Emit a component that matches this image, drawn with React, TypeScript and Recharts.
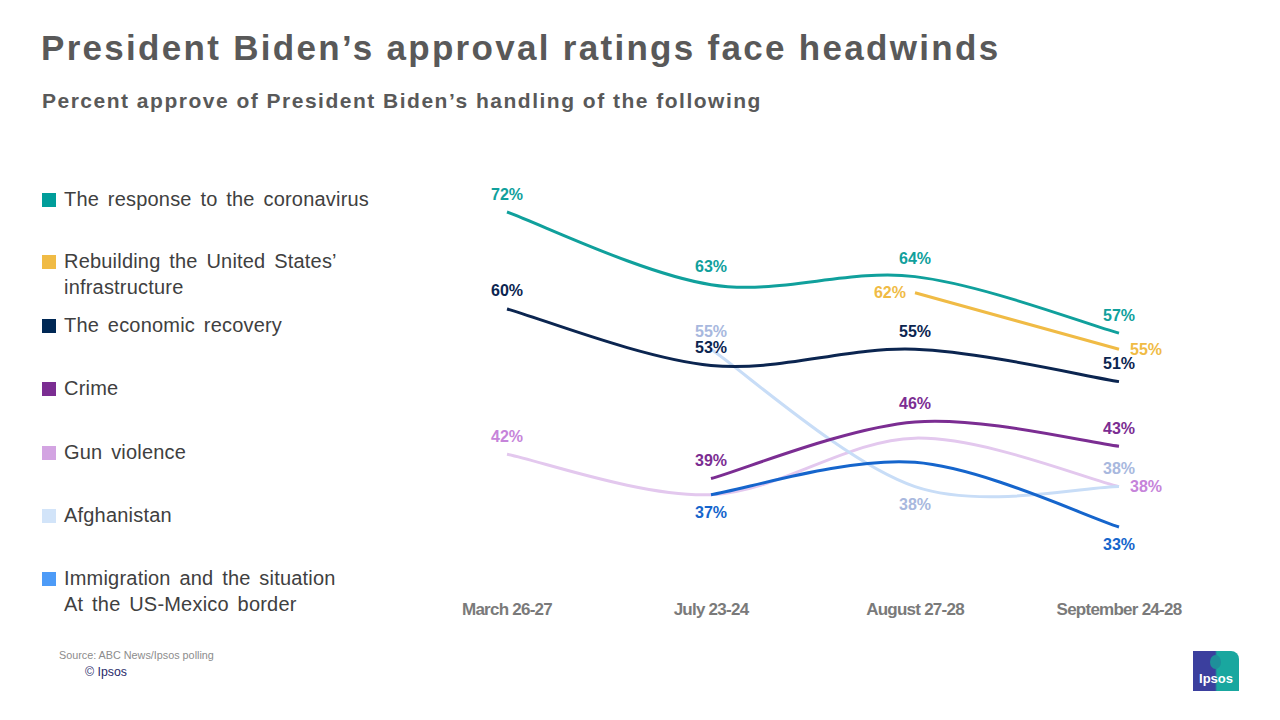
import React from 'react';
import { LineChart, Line, XAxis, YAxis, LabelList } from 'recharts';

const categories = ['March 26-27', 'July 23-24', 'August 27-28', 'September 24-28'];
const coronavirus = [72, 63, 64, 57];
const infrastructure = [null, null, 62, 55];
const economy = [60, 53, 55, 51];
const crime = [null, 39, 46, 43];
const gunViolence = [42, 37, 44, 38];
const afghanistan = [null, 55, 38, 38];
const immigration = [null, 37, 41, 33];

const legendItems = [
  { lines: ['The response to the coronavirus'], color: '#009d9a', top: 188 },
  { lines: ['Rebuilding the United States\u2019', 'infrastructure'], color: '#f0bb45', top: 250 },
  { lines: ['The economic recovery'], color: '#002855', top: 314 },
  { lines: ['Crime'], color: '#7b2d92', top: 377 },
  { lines: ['Gun violence'], color: '#d3a4e2', top: 441 },
  { lines: ['Afghanistan'], color: '#d2e4f9', top: 504 },
  { lines: ['Immigration and the situation', 'At the US-Mexico border'], color: '#4d9bf7', top: 567 },
];

type Pos = 'top' | 'bottom' | 'left' | 'right' | null;

const series: {
  key: string;
  values: (number | null)[];
  stroke: string;
  labelColor: string;
  pos: Pos[];
}[] = [
  { key: 'gun', values: gunViolence, stroke: '#e3c8ee', labelColor: '#c684da', pos: ['top', null, null, 'right'] },
  { key: 'afg', values: afghanistan, stroke: '#c8ddf7', labelColor: '#a8b8de', pos: [null, 'top', 'bottom', 'top'] },
  { key: 'imm', values: immigration, stroke: '#1565cc', labelColor: '#1565cc', pos: [null, 'bottom', null, 'bottom'] },
  { key: 'crime', values: crime, stroke: '#7b2d92', labelColor: '#7b2d92', pos: [null, 'top', 'top', 'top'] },
  { key: 'econ', values: economy, stroke: '#0b2550', labelColor: '#0b2550', pos: ['top', 'top', 'top', 'top'] },
  { key: 'infra', values: infrastructure, stroke: '#f0bb45', labelColor: '#f0bb45', pos: [null, null, 'left', 'right'] },
  { key: 'covid', values: coronavirus, stroke: '#10a09c', labelColor: '#10a09c', pos: ['top', 'top', 'top', 'top'] },
];

const data = categories.map((c, i) => {
  const row: any = { category: c };
  series.forEach((s) => {
    row[s.key] = s.values[i];
  });
  return row;
});

const excelSmooth: any = (context: any) => {
  let pts: number[][] = [];
  return {
    areaStart() {},
    areaEnd() {},
    lineStart() {
      pts = [];
    },
    point(x: number, y: number) {
      pts.push([+x, +y]);
    },
    lineEnd() {
      const n = pts.length;
      if (!n) return;
      context.moveTo(pts[0][0], pts[0][1]);
      for (let i = 0; i < n - 1; i++) {
        const p0 = pts[Math.max(0, i - 1)];
        const p1 = pts[i];
        const p2 = pts[i + 1];
        const p3 = pts[Math.min(n - 1, i + 2)];
        context.bezierCurveTo(
          p1[0] + (p2[0] - p0[0]) / 6,
          p1[1] + (p2[1] - p0[1]) / 6,
          p2[0] - (p3[0] - p1[0]) / 6,
          p2[1] - (p3[1] - p1[1]) / 6,
          p2[0],
          p2[1]
        );
      }
    },
  };
};

const makeLabel = (color: string, pos: Pos[]) => (props: any) => {
  const { value, index } = props;
  const x = props.x ?? props.viewBox?.x;
  const y = props.y ?? props.viewBox?.y;
  if (value == null || x == null || y == null) return null;
  const p = pos[index];
  if (!p) return null;
  let tx = x;
  let ty = y;
  let anchor: any = 'middle';
  if (p === 'top') ty = y - 18;
  if (p === 'bottom') ty = y + 18;
  if (p === 'left') {
    tx = x - 9;
    anchor = 'end';
  }
  if (p === 'right') {
    tx = x + 11;
    anchor = 'start';
  }
  return (
    <text
      x={tx}
      y={ty}
      textAnchor={anchor}
      dominantBaseline="central"
      fill={color}
      fontSize={16}
      fontWeight={700}
      fontFamily="'Liberation Sans', Arial, sans-serif"
    >
      {value}%
    </text>
  );
};

const Tick = (props: any) => {
  const { x, y, payload } = props;
  return (
    <text
      x={x}
      y={y}
      textAnchor="middle"
      dominantBaseline="central"
      fill="#7a7a7a"
      fontSize={17}
      fontWeight={700}
      fontFamily="'Liberation Sans Narrow', 'Arial Narrow', 'Liberation Sans', Arial, sans-serif"
      style={{ letterSpacing: '-0.75px' }}
    >
      {payload.value}
    </text>
  );
};

export default function App() {
  return (
    <div
      style={{
        position: 'absolute',
        left: 0,
        top: 0,
        width: 1280,
        height: 720,
        background: '#ffffff',
        overflow: 'hidden',
        fontFamily: "'Liberation Sans', Arial, sans-serif",
      }}
    >
      <div
        style={{
          position: 'absolute',
          left: 41,
          top: 27,
          fontSize: 35,
          fontWeight: 700,
          color: '#595959',
          whiteSpace: 'nowrap',
          lineHeight: '42px',
          letterSpacing: '2.3px',
        }}
      >
        President Biden’s approval ratings face headwinds
      </div>
      <div
        style={{
          position: 'absolute',
          left: 42,
          top: 88,
          fontSize: 21,
          fontWeight: 700,
          color: '#595959',
          whiteSpace: 'nowrap',
          lineHeight: '26px',
          letterSpacing: '1.5px',
        }}
      >
        Percent approve of President Biden’s handling of the following
      </div>

      {legendItems.map((it) => (
        <div key={it.lines.join(' ')} style={{ position: 'absolute', left: 42, top: it.top, width: 340 }}>
          <div
            style={{
              position: 'absolute',
              left: 0,
              top: 5,
              width: 14,
              height: 14,
              background: it.color,
            }}
          />
          <div
            style={{
              position: 'absolute',
              left: 22,
              top: -1,
              width: 320,
              fontSize: 20,
              lineHeight: '25.5px',
              color: '#404040',
              letterSpacing: '0.2px',
              wordSpacing: '3px',
              whiteSpace: 'nowrap',
            }}
          >
            {it.lines.map((l) => (
              <div key={l}>{l}</div>
            ))}
          </div>
        </div>
      ))}

      <div style={{ position: 'absolute', left: 0, top: 0 }}>
        <LineChart
          width={1280}
          height={720}
          data={data}
          margin={{ top: 187.8, right: 161, bottom: 108.8, left: 507 }}
        >
          <XAxis
            dataKey="category"
            axisLine={false}
            tickLine={false}
            tickSize={0}
            tickMargin={58}
            height={60}
            interval={0}
            tick={<Tick />}
          />
          <YAxis hide type="number" domain={[30, 75]} allowDataOverflow />
          {series.map((s) => (
            <Line
              key={s.key}
              dataKey={s.key}
              type={excelSmooth}
              stroke={s.stroke}
              strokeWidth={3}
              dot={false}
              activeDot={false}
              isAnimationActive={false}
            >
              <LabelList dataKey={s.key} content={makeLabel(s.labelColor, s.pos)} />
            </Line>
          ))}
        </LineChart>
      </div>

      <div style={{ position: 'absolute', left: 59, top: 649, fontSize: 10.8, color: '#8c8c8c', whiteSpace: 'nowrap' }}>
        Source: ABC News/Ipsos polling
      </div>
      <div style={{ position: 'absolute', left: 85, top: 665, fontSize: 12.3, color: '#2a2a6a', whiteSpace: 'nowrap' }}>
        © Ipsos
      </div>

      <div
        style={{
          position: 'absolute',
          left: 1193,
          top: 651,
          width: 46,
          height: 40,
          background: 'linear-gradient(90deg, #3b3f9e 0%, #3b3f9e 48%, #19a79f 52%, #19a79f 100%)',
          borderTopRightRadius: 8,
        }}
      >
        <div
          style={{
            position: 'absolute',
            left: 17,
            top: 4,
            width: 11,
            height: 14,
            borderRadius: '50%',
            background: '#1e8f9a',
          }}
        />
        <div
          style={{
            position: 'absolute',
            left: 0,
            top: 20,
            width: 46,
            textAlign: 'center',
            color: '#ffffff',
            fontSize: 13,
            fontWeight: 700,
            lineHeight: '16px',
          }}
        >
          Ipsos
        </div>
      </div>
    </div>
  );
}
